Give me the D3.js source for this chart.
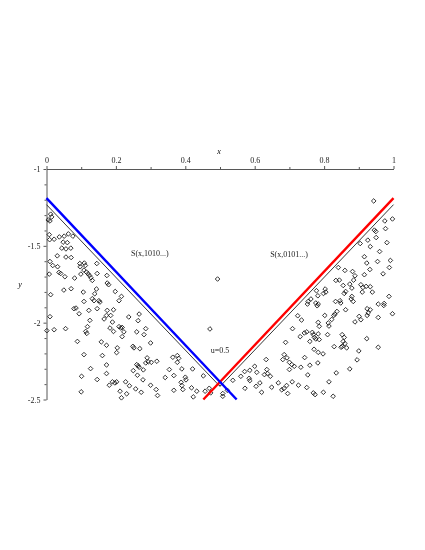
<!DOCTYPE html>
<html>
<head>
<meta charset="utf-8">
<script src="https://cdn.jsdelivr.net/npm/d3@7"></script>
<style>
  body { margin: 0; background: #fff; }
  svg { will-change: transform; }
  text { font-family: "Liberation Serif", "DejaVu Serif", serif; }
</style>
</head>
<body>
<svg id="vis" width="425" height="550"></svg>
<script>
// tick values
const xTicks = [0, 0.2, 0.4, 0.6, 0.8, 1]
const xMinor = [0.1, 0.3, 0.5, 0.7, 0.9]
const yTicks = [-1, -1.5, -2, -2.5]
const yMinor = [-1.1, -1.2, -1.3, -1.4, -1.6, -1.7, -1.8, -1.9, -2.1, -2.2, -2.3, -2.4]

// the two straight bounds and the thin line under them
const blueLine = [[0, -1.19], [0.548, -2.5]]
const redLine = [[0.452, -2.5], [1, -1.19]]
const blackLine = [[0, -1.232], [0.5, -2.415], [1, -1.232]]

// points, left half
const leftCloud = [
  [0.012,-1.294],[0.015,-1.312],[0.005,-1.331],[0.010,-1.338],
  [0.008,-1.427],[0.022,-1.457],[0.009,-1.460],[0.037,-1.442],[0.051,-1.437],[0.063,-1.422],[0.076,-1.437],
  [0.048,-1.476],[0.060,-1.479],[0.044,-1.515],[0.056,-1.520],[0.070,-1.515],
  [0.031,-1.565],[0.056,-1.573],[0.071,-1.576],[0.010,-1.602],[0.018,-1.628],[0.032,-1.636],
  [0.008,-1.684],[0.036,-1.673],[0.041,-1.680],[0.053,-1.701],[0.081,-1.710],
  [0.096,-1.615],[0.109,-1.612],[0.112,-1.628],[0.097,-1.636],[0.145,-1.615],
  [0.108,-1.658],[0.115,-1.671],[0.120,-1.682],[0.124,-1.693],[0.128,-1.708],[0.132,-1.725],
  [0.099,-1.684],[0.146,-1.680],[0.174,-1.693],[0.175,-1.742],[0.179,-1.753],
  [0.050,-1.788],[0.071,-1.779],[0.106,-1.801],[0.144,-1.781],[0.139,-1.812],[0.198,-1.797],[0.216,-1.829],[0.012,-1.818],
  [0.132,-1.844],[0.137,-1.857],[0.151,-1.857],[0.154,-1.866],[0.209,-1.857],[0.108,-1.862],
  [0.079,-1.909],[0.085,-1.905],[0.094,-1.942],[0.122,-1.920],[0.146,-1.909],[0.175,-1.920],[0.193,-1.916],
  [0.173,-1.953],[0.185,-1.953],[0.166,-1.976],[0.190,-1.996],[0.010,-1.961],[0.125,-1.985],
  [0.237,-1.963],[0.267,-1.944],[0.264,-1.987],
  [0.001,-2.052],[0.022,-2.046],[0.055,-2.039],[0.118,-2.026],[0.113,-2.057],[0.116,-2.070],
  [0.183,-2.035],[0.193,-2.057],[0.209,-2.026],[0.214,-2.035],[0.218,-2.031],[0.223,-2.060],[0.218,-2.091],
  [0.260,-2.060],[0.286,-2.039],[0.281,-2.078],
  [0.089,-2.122],[0.158,-2.125],[0.173,-2.147],[0.204,-2.164],[0.202,-2.195],
  [0.249,-2.154],[0.252,-2.164],[0.269,-2.169],[0.300,-2.132],
  [0.108,-2.208],[0.161,-2.214],[0.290,-2.229],[0.286,-2.262],[0.293,-2.255],[0.302,-2.258],
  [0.260,-2.273],[0.264,-2.281],[0.267,-2.290],[0.173,-2.275],[0.127,-2.299],[0.250,-2.312],[0.279,-2.307],
  [0.173,-2.331],[0.101,-2.349],[0.146,-2.370],[0.262,-2.342],[0.278,-2.372],
  [0.190,-2.385],[0.197,-2.392],[0.202,-2.385],[0.228,-2.385],[0.181,-2.407],[0.239,-2.411],[0.257,-2.431],[0.300,-2.407],
  [0.100,-2.450],[0.212,-2.446],[0.231,-2.463],[0.273,-2.453],[0.216,-2.489],
  [0.318,-2.251],[0.364,-2.225],[0.377,-2.214],[0.381,-2.232],[0.377,-2.258],
  [0.354,-2.305],[0.390,-2.301],[0.421,-2.301],[0.342,-2.357],[0.367,-2.344],[0.400,-2.355],[0.452,-2.346],
  [0.316,-2.435],[0.320,-2.474],[0.367,-2.440],[0.388,-2.388],[0.390,-2.409],[0.393,-2.435],[0.402,-2.372],
  [0.418,-2.424],[0.423,-2.483],[0.433,-2.446],[0.457,-2.446],[0.469,-2.427],[0.473,-2.457]
]

// points, right half
const rightCloud = [
  [0.500,-2.396],[0.508,-2.461],[0.508,-2.479],[0.521,-2.440],[0.537,-2.375],[0.560,-2.349],
  [0.571,-2.318],[0.586,-2.310],[0.600,-2.284],[0.606,-2.323],[0.584,-2.362],[0.586,-2.377],[0.572,-2.427],[0.604,-2.414],
  [0.975,-1.338],[0.977,-1.388],[0.997,-1.325],[0.945,-1.398],[0.949,-1.407],[0.950,-1.446],
  [0.926,-1.463],[0.933,-1.505],[0.904,-1.485],[0.981,-1.479],[0.960,-1.537],[0.916,-1.571],
  [0.923,-1.612],[0.932,-1.654],[0.954,-1.602],[0.991,-1.595],[0.988,-1.641],[0.970,-1.682],
  [0.841,-1.641],[0.860,-1.660],[0.882,-1.667],[0.889,-1.695],[0.916,-1.688],
  [0.834,-1.725],[0.844,-1.723],[0.885,-1.723],[0.874,-1.749],[0.880,-1.775],[0.906,-1.753],[0.912,-1.771],
  [0.921,-1.764],[0.910,-1.801],[0.933,-1.766],[0.939,-1.801],[0.855,-1.758],[0.858,-1.810],[0.862,-1.797],
  [0.803,-1.781],[0.805,-1.801],[0.798,-1.810],[0.778,-1.792],[0.782,-1.825],[0.776,-1.872],[0.780,-1.890],[0.783,-1.879],
  [0.762,-1.846],[0.754,-1.862],[0.752,-1.879],[0.880,-1.829],[0.878,-1.846],[0.884,-1.862],
  [0.833,-1.862],[0.846,-1.857],[0.848,-1.872],[0.862,-1.916],[0.837,-1.927],[0.831,-1.944],[0.828,-1.953],
  [0.822,-1.979],[0.812,-2.002],[0.814,-2.022],[0.802,-1.953],[0.783,-1.998],[0.786,-2.024],
  [0.724,-1.955],[0.735,-1.983],[0.709,-2.039],[0.750,-2.060],[0.743,-2.067],[0.766,-2.063],[0.769,-2.078],
  [0.772,-2.096],[0.776,-2.106],[0.731,-2.091],[0.759,-2.122],[0.783,-2.073],[0.786,-2.110],[0.810,-2.078],
  [0.852,-2.078],[0.858,-2.096],[0.855,-2.122],[0.860,-2.136],[0.852,-2.154],[0.849,-2.160],[0.865,-2.164],[0.829,-2.156],
  [0.889,-1.995],[0.901,-1.959],[0.906,-1.981],[0.924,-1.909],[0.927,-1.937],[0.924,-1.953],[0.933,-1.916],
  [0.956,-1.879],[0.973,-1.875],[0.972,-1.888],[0.987,-1.829],[0.997,-1.942],[0.956,-1.966],
  [0.923,-2.104],[0.956,-2.160],[0.900,-2.184],
  [0.689,-2.128],[0.685,-2.208],[0.693,-2.229],[0.700,-2.258],[0.707,-2.273],[0.714,-2.284],
  [0.633,-2.240],[0.681,-2.240],[0.744,-2.227],[0.783,-2.193],[0.797,-2.203],[0.771,-2.173],
  [0.733,-2.290],[0.759,-2.277],[0.782,-2.262],[0.637,-2.331],[0.645,-2.349],[0.628,-2.338],[0.635,-2.305],
  [0.700,-2.305],[0.753,-2.340],[0.835,-2.327],[0.874,-2.301],[0.895,-2.242],
  [0.620,-2.453],[0.649,-2.420],[0.678,-2.437],[0.684,-2.429],[0.692,-2.409],[0.615,-2.392],[0.668,-2.392],
  [0.708,-2.385],[0.726,-2.407],[0.750,-2.422],[0.695,-2.461],[0.769,-2.457],[0.774,-2.468],
  [0.798,-2.453],[0.814,-2.385],[0.826,-2.479]
]

// stray points away from the clouds
const outliers = [[0.471, -2.041], [0.493, -1.716], [0.943, -1.208]]

// text on the plot
const notes = [
  { text: "S(x,1010...)", x: 0.298, y: -1.55 },
  { text: "S(x,0101...)", x: 0.699, y: -1.552 },
  { text: "u=0.5", x: 0.5, y: -2.182 }
]

const vis = d3.select("#vis")

const xScale = d3.scaleLinear().domain([0, 1]).range([46.5, 393.5])
const yScale = d3.scaleLinear().domain([-1, -2.5]).range([169, 399.5])

const fmt = d => String(d)

// x axis on top, at y = -1
const gx = vis.append("g").attr("transform", `translate(0, ${yScale(-1)})`)
gx.call(d3.axisTop(xScale).tickValues(xTicks).tickFormat(fmt).tickSize(3).tickSizeOuter(0).tickPadding(3))
vis.append("g").attr("transform", `translate(0, ${yScale(-1)})`)
  .call(d3.axisTop(xScale).tickValues(xMinor).tickFormat("").tickSize(2).tickSizeOuter(0))
  .select(".domain").remove()

// y axis on the left, at x = 0
const gy = vis.append("g").attr("transform", `translate(${xScale(0)}, 0)`)
gy.call(d3.axisLeft(yScale).tickValues(yTicks).tickFormat(fmt).tickSize(3).tickSizeOuter(0).tickPadding(3))
vis.append("g").attr("transform", `translate(${xScale(0)}, 0)`)
  .call(d3.axisLeft(yScale).tickValues(yMinor).tickFormat("").tickSize(2).tickSizeOuter(0))
  .select(".domain").remove()

vis.selectAll(".domain, .tick line").attr("stroke", "#444").attr("stroke-width", 0.9)
vis.selectAll(".tick text").attr("font-family", "Liberation Serif").attr("font-size", 8).attr("fill", "#222")

// axis names
vis.append("text").attr("x", 219).attr("y", 154).attr("text-anchor", "middle")
  .attr("font-size", 8).attr("font-style", "italic").text("x")
vis.append("text").attr("x", 20).attr("y", 287).attr("text-anchor", "middle")
  .attr("font-size", 8).attr("font-style", "italic").text("y")

// diamonds
const r = 2.3
const diamond = `M0,${-r}L${r},0L0,${r}L${-r},0Z`
const allPoints = leftCloud.concat(rightCloud, outliers)
vis.append("g").selectAll("path")
  .data(allPoints)
  .enter()
  .append("path")
  .attr("d", diamond)
  .attr("transform", d => `translate(${xScale(d[0])}, ${yScale(d[1])})`)
  .attr("fill", "none")
  .attr("stroke", "#111")
  .attr("stroke-width", 0.85)

// lines
const line = d3.line().x(d => xScale(d[0])).y(d => yScale(d[1]))
vis.append("path").datum(blackLine).attr("d", line).attr("fill", "none").attr("stroke", "#222").attr("stroke-width", 0.9)
vis.append("path").datum(redLine).attr("d", line).attr("fill", "none").attr("stroke", "#ff0000").attr("stroke-width", 2.4)
vis.append("path").datum(blueLine).attr("d", line).attr("fill", "none").attr("stroke", "#0000ff").attr("stroke-width", 2.4)

// annotations
vis.selectAll(".note")
  .data(notes)
  .enter()
  .append("text")
  .attr("class", "note")
  .attr("x", d => xScale(d.x))
  .attr("y", d => yScale(d.y))
  .attr("dy", "0.35em")
  .attr("text-anchor", "middle")
  .attr("font-size", 8)
  .attr("fill", "#222")
  .text(d => d.text)
</script>
</body>
</html>
